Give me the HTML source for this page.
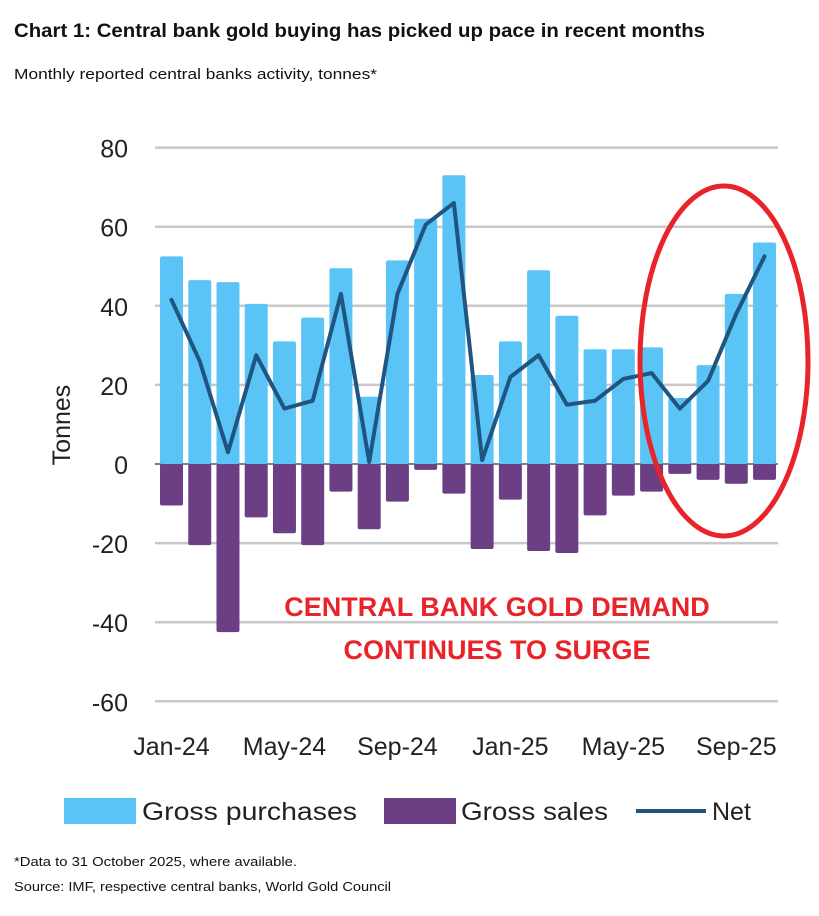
<!DOCTYPE html>
<html><head><meta charset="utf-8">
<style>
body{margin:0;background:#fff;width:819px;height:911px;overflow:hidden;font-family:"Liberation Sans",sans-serif}
</style></head>
<body>
<svg id="c" width="819" height="911" xmlns="http://www.w3.org/2000/svg">
<text x="14" y="37" font-size="19" font-weight="bold" fill="#111" textLength="691" lengthAdjust="spacingAndGlyphs">Chart 1: Central bank gold buying has picked up pace in recent months</text>
<text x="14" y="79" font-size="14.5" fill="#111" textLength="363" lengthAdjust="spacingAndGlyphs">Monthly reported central banks activity, tonnes*</text>
<g id="grid"></g><g id="bars"></g><g id="line"></g><g id="labels"></g>
<text transform="translate(70,425) rotate(-90)" text-anchor="middle" font-size="25" fill="#222">Tonnes</text>
<text x="497" y="616" text-anchor="middle" font-size="27" font-weight="bold" fill="#e8232a">CENTRAL BANK GOLD DEMAND</text>
<text x="497" y="659" text-anchor="middle" font-size="27" font-weight="bold" fill="#e8232a">CONTINUES TO SURGE</text>
<ellipse cx="724" cy="361" rx="84" ry="175" fill="none" stroke="#e8232a" stroke-width="5"/>
<g>
<rect x="64" y="798" width="72" height="26" fill="#5bc4f7"/>
<text x="142" y="820" font-size="25" fill="#222" textLength="215" lengthAdjust="spacingAndGlyphs">Gross purchases</text>
<rect x="384" y="798" width="72" height="26" fill="#6c3f85"/>
<text x="461" y="820" font-size="25" fill="#222" textLength="147" lengthAdjust="spacingAndGlyphs">Gross sales</text>
<line x1="636" y1="811" x2="706" y2="811" stroke="#1f5580" stroke-width="4"/>
<text x="712" y="820" font-size="25" fill="#222">Net</text>
</g>
<text x="14" y="866" font-size="13" fill="#111" textLength="283" lengthAdjust="spacingAndGlyphs">*Data to 31 October 2025, where available.</text>
<text x="14" y="891" font-size="13" fill="#111" textLength="377" lengthAdjust="spacingAndGlyphs">Source: IMF, respective central banks, World Gold Council</text>
</svg>
<script>
const months=["Jan-24","Feb-24","Mar-24","Apr-24","May-24","Jun-24","Jul-24","Aug-24","Sep-24","Oct-24","Nov-24","Dec-24","Jan-25","Feb-25","Mar-25","Apr-25","May-25","Jun-25","Jul-25","Aug-25","Sep-25","Oct-25"];
const purchases=[52.5,46.5,46,40.5,31,37,49.5,17,51.5,62,73,22.5,31,49,37.5,29,29,29.5,16.7,25,43,56];
const sales=[-10.5,-20.5,-42.5,-13.5,-17.5,-20.5,-7,-16.5,-9.5,-1.5,-7.5,-21.5,-9,-22,-22.5,-13,-8,-7,-2.5,-4,-5,-4];
const net=[41.5,26,3,27.5,14,16,43,0.5,43,60.5,66,1,22,27.5,15,16,21.5,23,14,21,38,52.5];
const yTicks=[80,60,40,20,0,-20,-40,-60];
const xLabels=["Jan-24","May-24","Sep-24","Jan-25","May-25","Sep-25"];
const NS="http://www.w3.org/2000/svg";
const y=v=>464-v*3.955;
const x=i=>171.5+i*28.24;
function mk(t,a,p){const e=document.createElementNS(NS,t);for(const k in a)e.setAttribute(k,a[k]);p.appendChild(e);return e;}
const G=document.getElementById('grid'),B=document.getElementById('bars'),L=document.getElementById('line'),T=document.getElementById('labels');
yTicks.forEach(v=>{
 const l=mk('line',{x1:155,x2:778,y1:y(v),y2:y(v),stroke:v===0?'#555':'#c8c8c8','stroke-width':v===0?1.5:2.5},G);
 
 
 const t=mk('text',{x:128,y:y(v)+10,'text-anchor':'end','font-size':25,fill:'#222'},T);
 t.textContent=v;
 
 
});
months.forEach((m,i)=>{
 const p=mk('rect',{x:x(i)-11.5,y:y(purchases[i]),width:23,height:y(0)-y(purchases[i]),fill:'#5bc4f7',rx:2},B);
 
 
 const s=mk('rect',{x:x(i)-11.5,y:y(0),width:23,height:y(sales[i])-y(0),fill:'#6c3f85',rx:2},B);
 
 
 const lb=xLabels.indexOf(m);
 if(lb>=0){const t=mk('text',{x:x(i),y:755,'text-anchor':'middle','font-size':25,fill:'#222'},T);t.textContent=m;
 
 }
});
const pl=mk('polyline',{points:net.map((v,i)=>x(i)+','+y(v)).join(' '),fill:'none',stroke:'#1f5580','stroke-width':4,'stroke-linejoin':'round','stroke-linecap':'round'},L);


</script>
</body></html>
